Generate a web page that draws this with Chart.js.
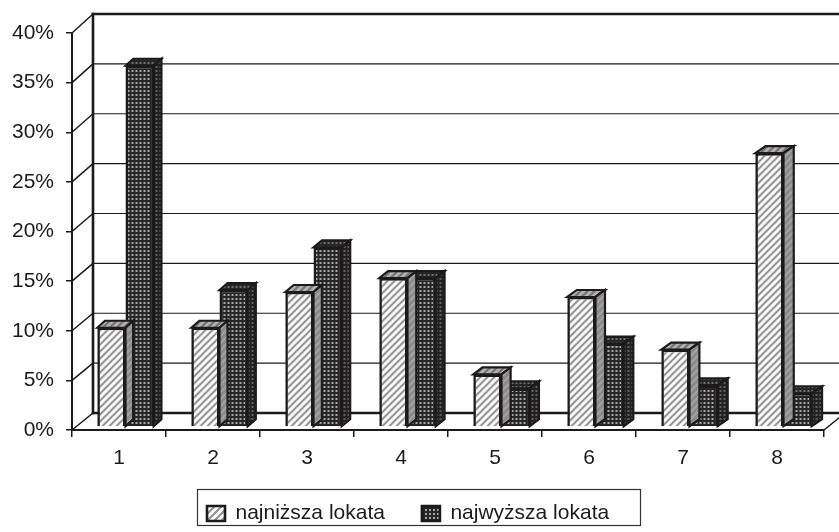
<!DOCTYPE html>
<html>
<head>
<meta charset="utf-8">
<script src="https://cdn.jsdelivr.net/npm/chart.js@4"></script>
<style>
    html, body { margin: 0; padding: 0; background: #fff; }
    canvas { display: block; }
</style>
</head>
<body>
<canvas id="chart" width="839" height="532"></canvas>
<script>
const categories = ['1', '2', '3', '4', '5', '6', '7', '8'];
const seriesNames = ['najniższa lokata', 'najwyższa lokata'];
const lowest = [10, 10, 13.6, 15, 5.3, 13.1, 7.8, 27.6];
const highest = [36.4, 13.8, 18.1, 15, 3.9, 8.4, 4.2, 3.4];

const INK = '#1c1a1b';
const FONT = '"Liberation Sans", Arial, sans-serif';

// wzory wypełnienia słupków
function hatch(bg, fg) {
    const c = document.createElement('canvas');
    c.width = 7; c.height = 7;
    const g = c.getContext('2d');
    g.fillStyle = bg;
    g.fillRect(0, 0, 7, 7);
    g.strokeStyle = fg;
    g.lineWidth = 2;
    g.beginPath();
    g.moveTo(-1, 8); g.lineTo(8, -1);
    g.moveTo(-4.5, 4.5); g.lineTo(4.5, -4.5);
    g.moveTo(2.5, 11.5); g.lineTo(11.5, 2.5);
    g.stroke();
    return document.createElement('canvas').getContext('2d').createPattern(c, 'repeat');
}

function dots(bg, fg) {
    const c = document.createElement('canvas');
    c.width = 4; c.height = 4;
    const g = c.getContext('2d');
    g.fillStyle = bg;
    g.fillRect(0, 0, 4, 4);
    g.fillStyle = fg;
    g.fillRect(1, 1, 2, 2);
    return document.createElement('canvas').getContext('2d').createPattern(c, 'repeat');
}

const faces = [
    { front: hatch('#ffffff', '#8f8f8f'), top: hatch('#b4b4b4', '#6e6e6e'), side: hatch('#8a8a8a', '#a4a4a4') },
    { front: dots('#262626', '#a6a6a6'), top: dots('#262626', '#6e6e6e'), side: dots('#222222', '#5e5e5e') }
];

// rzut 3D: przesunięcie ściany tylnej i głębokość słupka
const WALL_DX = 21;
const BAR_DY = 7;
const BAR_SHIFT_X = 6.5;
const BAR_SHIFT_Y = -3;

function wallY(scale, v) {
    return scale.getPixelForValue(v) - 17 - 2 * v / 40;
}

// głębokość w poziomie rośnie w prawo (perspektywa)
function barDx(chart, x) {
    const a = chart.chartArea;
    return 7.5 + 3 * (x - a.left) / a.width;
}

const wallPlugin = {
    id: 'wall',
    beforeDatasetsDraw(chart) {
        const ctx = chart.ctx;
        const y = chart.scales.y;
        const a = chart.chartArea;
        const backX = a.left + WALL_DX;
        ctx.save();
        ctx.strokeStyle = INK;
        ctx.lineCap = 'square';
        y.ticks.forEach(t => {
            const py = y.getPixelForValue(t.value);
            const by = wallY(y, t.value);
            const edge = t.value === 0 || t.value === 40;
            ctx.lineWidth = edge ? 2.6 : 1.2;
            ctx.beginPath();
            ctx.moveTo(backX, by);
            ctx.lineTo(chart.width + 2, by);
            ctx.stroke();
            ctx.lineWidth = 1.5;
            ctx.beginPath();
            ctx.moveTo(a.left, py);
            ctx.lineTo(backX, by);
            ctx.stroke();
        });
        ctx.lineWidth = 2.6;
        ctx.beginPath();
        ctx.moveTo(backX, wallY(y, 40));
        ctx.lineTo(backX, wallY(y, 0));
        ctx.stroke();
        // prawa krawędź podłogi
        ctx.lineWidth = 1.5;
        ctx.beginPath();
        ctx.moveTo(a.right, y.getPixelForValue(0));
        ctx.lineTo(a.right + WALL_DX, wallY(y, 0));
        ctx.stroke();
        ctx.restore();
    },
    beforeDatasetDraw(chart, args) {
        const ctx = chart.ctx;
        const f = faces[args.index];
        ctx.save();
        ctx.translate(BAR_SHIFT_X, BAR_SHIFT_Y);
        ctx.strokeStyle = INK;
        ctx.lineWidth = 2.2;
        ctx.lineJoin = 'miter';
        args.meta.data.forEach(bar => {
            const l = bar.x - bar.width / 2;
            const r = bar.x + bar.width / 2;
            const dx = barDx(chart, bar.x);
            const dy = BAR_DY;
            ctx.fillStyle = f.top;
            ctx.beginPath();
            ctx.moveTo(l, bar.y);
            ctx.lineTo(l + dx, bar.y - dy);
            ctx.lineTo(r + dx, bar.y - dy);
            ctx.lineTo(r, bar.y);
            ctx.closePath();
            ctx.fill();
            ctx.stroke();
            ctx.fillStyle = f.side;
            ctx.beginPath();
            ctx.moveTo(r, bar.y);
            ctx.lineTo(r + dx, bar.y - dy);
            ctx.lineTo(r + dx, bar.base - dy);
            ctx.lineTo(r, bar.base);
            ctx.closePath();
            ctx.fill();
            ctx.stroke();
        });
    },
    afterDatasetDraw(chart) {
        chart.ctx.restore();
    }
};

// ramka legendy i jej położenie
const LEGEND_GAP = 37;
const legendPlugin = {
    id: 'legendFrame',
    afterLayout(chart) {
        const lg = chart.legend;
        lg.options.labels.padding = LEGEND_GAP;
        lg.left = 207 - LEGEND_GAP;
        lg.top = 503 - LEGEND_GAP;
    },
    afterDraw(chart) {
        const ctx = chart.ctx;
        ctx.save();
        ctx.strokeStyle = '#333333';
        ctx.lineWidth = 1.2;
        ctx.strokeRect(197.5, 489.5, 443, 36);
        ctx.restore();
    }
};

new Chart(document.getElementById('chart'), {
    type: 'bar',
    data: {
        labels: categories,
        datasets: [
            { label: seriesNames[0], data: lowest, backgroundColor: faces[0].front, borderColor: INK, borderWidth: 2.6, clip: false },
            { label: seriesNames[1], data: highest, backgroundColor: faces[1].front, borderColor: INK, borderWidth: 2.6, clip: false }
        ]
    },
    options: {
        responsive: false,
        animation: false,
        layout: { padding: { top: 33, right: 15, bottom: 5, left: 0 } },
        datasets: { bar: { categoryPercentage: 0.6, barPercentage: 1 } },
        plugins: {
            title: { display: false },
            tooltip: { enabled: false },
            legend: {
                position: 'bottom',
                align: 'start',
                labels: {
                    color: INK,
                    font: { family: FONT, size: 21 },
                    boxWidth: 18,
                    boxHeight: 15,
                    padding: 10
                }
            }
        },
        scales: {
            x: {
                afterFit: s => { s.height = 56; },
                grid: { drawOnChartArea: false, color: INK, tickLength: 7, lineWidth: 1.5 },
                border: { color: INK, width: 2 },
                ticks: { color: INK, font: { family: FONT, size: 21 }, padding: 8.5, maxRotation: 0 }
            },
            y: {
                min: 0,
                max: 40,
                afterFit: s => { s.width = 72; },
                grid: { drawOnChartArea: false, color: INK, tickLength: 6, lineWidth: 1.5 },
                border: { color: INK, width: 2 },
                ticks: {
                    stepSize: 5,
                    color: INK,
                    font: { family: FONT, size: 21 },
                    padding: 12,
                    callback: v => v + '%'
                }
            }
        }
    },
    plugins: [wallPlugin, legendPlugin]
});
</script>
</body>
</html>
